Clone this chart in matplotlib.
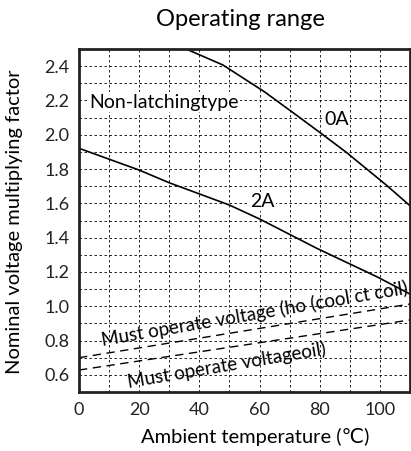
import matplotlib
matplotlib.use("Agg")
import matplotlib.pyplot as plt

plt.rcParams['font.family'] = ['Lato', 'DejaVu Sans']

# curve values
t_0a = [35.6, 47.8, 61.6, 72.2, 80.0, 88.8, 102.1, 110]
v_0a = [2.50, 2.407, 2.251, 2.115, 2.014, 1.898, 1.707, 1.586]

t_2a = [0, 20, 30, 50, 60, 79, 99, 110]
v_2a = [1.921, 1.794, 1.72, 1.59, 1.509, 1.338, 1.172, 1.071]

t_must = [0, 110]
v_must_hot = [0.70, 1.013]
v_must_cold = [0.628, 0.92]

xticks = [0, 20, 40, 60, 80, 100]
yticks = [0.6, 0.8, 1.0, 1.2, 1.4, 1.6, 1.8, 2.0, 2.2, 2.4]

W, H = 411, 451
fig = plt.figure(figsize=(W / 100, H / 100), dpi=100)
ax = fig.add_axes([79 / W, (H - 392) / H, 331 / W, 343 / H])

ax.plot(t_0a, v_0a, color='black', lw=1.2)
ax.plot(t_2a, v_2a, color='black', lw=1.2)
ax.plot(t_must, v_must_hot, color='black', lw=1.0, ls=(0, (6, 4)))
ax.plot(t_must, v_must_cold, color='black', lw=1.0, ls=(0, (6, 4)))

ax.set_xlim(0, 110)
ax.set_ylim(0.5, 2.5)
ax.set_xticks(xticks)
ax.set_yticks(yticks)
ax.set_yticklabels([f"{v:.1f}" for v in yticks])
ax.set_xticks(range(0, 111, 10), minor=True)
ax.set_yticks([0.5 + 0.1 * i for i in range(21)], minor=True)
ax.tick_params(which='both', length=0, labelsize=13, pad=7, colors='#222222')
ax.grid(which='both', color='black', ls=(0, (3, 3)), lw=0.6)
for s in ax.spines.values():
    s.set_linewidth(2)
    s.set_color('#222222')

box = dict(facecolor='white', edgecolor='none', pad=1)
ax.text(3.5, 2.19, "Non-latchingtype", fontsize=14, ha='left', va='center', bbox=box)
ax.text(85.6, 2.09, "0A", fontsize=14, ha='center', va='center', bbox=box)
ax.text(61, 1.61, "2A", fontsize=14, ha='center', va='center', bbox=box)
ax.text(58.5, 0.955, "Must operate voltage (ho (cool ct coil)", fontsize=13.5,
        ha='center', va='center', rotation=9.7, rotation_mode='anchor')
ax.text(49, 0.657, "Must operate voltageoil)", fontsize=13.5,
        ha='center', va='center', rotation=9.6, rotation_mode='anchor')

ax.set_xlabel("Ambient temperature (℃)", fontsize=14.5, va='center')
ax.xaxis.set_label_coords((255 - 79) / 331, (392 - 437) / 343)
ax.set_ylabel("Nominal voltage multiplying factor", fontsize=14.5, va='center')
ax.yaxis.set_label_coords((15 - 79) / 331, (392 - 222) / 343)
fig.text(240 / W, 1 - 19 / H, "Operating range", fontsize=17, ha='center', va='center')

fig.savefig("out.png", dpi=100)
